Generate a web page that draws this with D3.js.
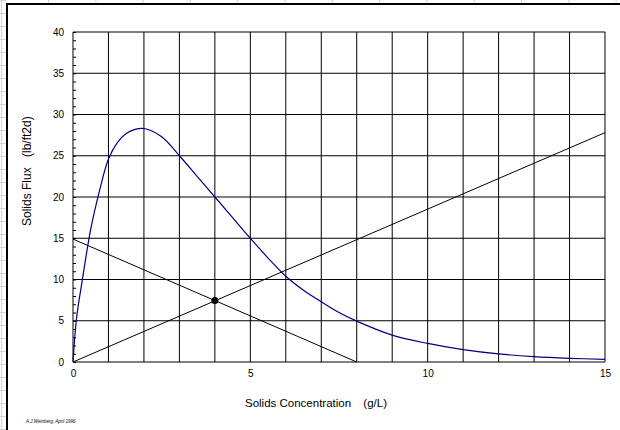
<html>
<head>
<script src="https://d3js.org/d3.v7.min.js"></script>
<style>
  body { margin: 0; background: #fff; }
  text { font-family: "Liberation Sans", Arial, sans-serif; fill: #000; white-space: pre; }
</style>
</head>
<body>
<svg id="chart" width="620" height="430"></svg>
<script>
// settling flux curve
const conc = [0, 0.1, 0.25, 0.5, 0.75, 1, 1.25, 1.5, 1.75, 2, 2.5, 3, 3.5, 4, 4.5, 5, 5.5, 6, 6.5, 7, 7.5, 8, 9, 10, 11, 12, 13, 14, 15];
const flux = [0, 5.3, 9.6, 16.1, 20.8, 24.6, 26.6, 27.7, 28.2, 28.3, 27.3, 25, 22.5, 20, 17.5, 15, 12.6, 10.4, 8.7, 7.3, 6.0, 4.95, 3.25, 2.25, 1.5, 0.98, 0.65, 0.45, 0.32];

// underflow line and overflow line end points
const underflowX = [0, 15];
const underflowY = [0, 27.8];
const overflowX = [0, 8];
const overflowY = [14.9, 0];
const statePoint = [4, 7.45];

const xTicks = [0, 5, 10, 15];
const yTicks = [0, 5, 10, 15, 20, 25, 30, 35, 40];
const xGrid = d3.range(0, 16);
const yMinor = d3.range(0, 41);

const svg = d3.select('svg#chart');

// spreadsheet cells behind the chart
const sheet = svg.append('g').attr('stroke', '#d4d4d4').attr('stroke-width', 1);
for (let yy = 0.5; yy < 430; yy += 13) {
  sheet.append('line').attr('x1', 0).attr('x2', 6).attr('y1', yy).attr('y2', yy);
}
sheet.append('line').attr('x1', 1.5).attr('x2', 1.5).attr('y1', 0).attr('y2', 430);
for (let xx = 48.5; xx < 620; xx += 47.3) {
  sheet.append('line').attr('x1', xx).attr('x2', xx).attr('y1', 0).attr('y2', 3);
}

// chart area frame
svg.append('rect')
  .attr('x', 7).attr('y', 4).attr('width', 640).attr('height', 450)
  .attr('fill', '#fff').attr('stroke', '#000').attr('stroke-width', 2);

const x = d3.scaleLinear().domain([0, 15]).range([73, 605]);
const y = d3.scaleLinear().domain([0, 40]).range([362, 32]);

// grid
const grid = svg.append('g').attr('stroke', '#000').attr('stroke-width', 1);
xGrid.forEach(v => {
  grid.append('line').attr('x1', x(v)).attr('x2', x(v)).attr('y1', y(0)).attr('y2', y(40));
});
yTicks.forEach(v => {
  grid.append('line').attr('x1', x(0)).attr('x2', x(15)).attr('y1', y(v)).attr('y2', y(v));
});

// minor ticks on the value axis
svg.append('g')
  .attr('transform', `translate(${x(0)},0)`)
  .call(d3.axisRight(y).tickValues(yMinor).tickSize(3).tickFormat(''))
  .call(g => g.select('.domain').remove());

// axis labels
svg.append('g')
  .attr('transform', `translate(${x(0)},0)`)
  .call(d3.axisLeft(y).tickValues(yTicks).tickSize(0).tickPadding(9))
  .call(g => g.select('.domain').remove())
  .selectAll('text').attr('font-size', 10).style('font-family', '"Liberation Sans", Arial, sans-serif');

svg.append('g')
  .attr('transform', `translate(0,${y(0)})`)
  .call(d3.axisBottom(x).tickValues(xTicks).tickSize(0).tickPadding(8))
  .call(g => g.select('.domain').remove())
  .selectAll('text').attr('font-size', 10).style('font-family', '"Liberation Sans", Arial, sans-serif');

// flux curve
const pts = conc.map((c, i) => [c, flux[i]]);
svg.append('path')
  .attr('d', d3.line().x(d => x(d[0])).y(d => y(d[1])).curve(d3.curveCatmullRom)(pts))
  .attr('fill', 'none').attr('stroke', '#000080').attr('stroke-width', 1.2);

// operating lines
[[underflowX, underflowY], [overflowX, overflowY]].forEach(([lx, ly]) => {
  svg.append('line')
    .attr('x1', x(lx[0])).attr('y1', y(ly[0]))
    .attr('x2', x(lx[1])).attr('y2', y(ly[1]))
    .attr('stroke', '#000').attr('stroke-width', 1);
});

svg.append('circle')
  .attr('cx', x(statePoint[0])).attr('cy', y(statePoint[1]))
  .attr('r', 3.5).attr('fill', '#000');

// titles
const xt = svg.append('text')
  .attr('x', 245).attr('y', 407).attr('font-size', 11.5);
xt.append('tspan').text('Solids Concentration');
xt.append('tspan').attr('dx', 9).text(' (g/L)');

const yt = svg.append('text')
  .attr('transform', 'translate(31,226) rotate(-90)').attr('font-size', 12);
yt.append('tspan').text('Solids Flux');
yt.append('tspan').attr('dx', 7).text(' (lb/ft2d)');

svg.append('text')
  .attr('x', 26).attr('y', 423)
  .attr('font-size', 4.5).attr('font-style', 'italic')
  .text('A.J.Weinberg, April 1996');
</script>
</body>
</html>
